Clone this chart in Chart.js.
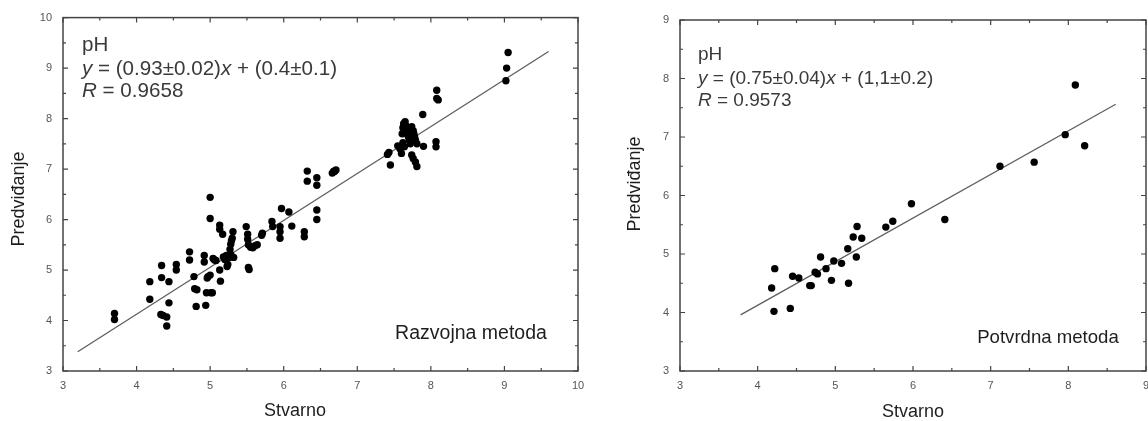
<!DOCTYPE html>
<html><head><meta charset="utf-8">
<script src="https://cdn.jsdelivr.net/npm/chart.js@4.4.0/dist/chart.umd.min.js"></script>
<style>
html,body{margin:0;padding:0;background:#fff;width:1148px;height:421px;overflow:hidden;position:relative}
canvas{position:absolute;top:0}
#c1{left:0}
#c2{left:600px}
</style></head><body>
<canvas id="c1" width="600" height="421" style="width:600px;height:421px"></canvas>
<canvas id="c2" width="600" height="421" style="width:600px;height:421px"></canvas>
<script>
// ---- Razvojna metoda (development set) ----
const devActual = [3.70,3.70,4.18,4.18,4.34,4.34,4.33,4.36,4.41,4.41,4.44,4.44,4.54,4.54,4.72,4.72,4.78,4.79,4.82,4.81,
  4.92,4.92,4.95,4.94,4.97,5.00,4.96,5.01,5.03,5.00,5.00,5.04,5.06,5.08,5.13,5.13,5.13,5.14,5.17,5.18,
  5.20,5.23,5.24,5.26,5.28,5.27,5.28,5.29,5.31,5.30,5.32,5.22,5.49,5.51,5.51,5.52,5.55,5.52,5.53,5.58,
  5.61,5.64,5.71,5.70,5.84,5.85,5.95,5.95,5.95,5.97,6.07,6.11,6.28,6.28,6.32,6.32,6.45,6.45,6.45,6.45,
  6.66,6.68,6.71,6.69,7.41,7.43,7.45,7.55,7.58,7.60,7.61,7.62,7.63,7.65,7.66,7.68,7.69,7.71,7.72,7.74,
  7.76,7.77,7.78,7.79,7.81,7.74,7.76,7.79,7.81,7.89,7.90,8.07,8.07,8.08,8.08,8.10,9.02,9.03,9.05,7.64,7.70,7.62];
const devPredicted = [4.14,4.02,4.77,4.42,5.09,4.85,4.12,4.10,4.07,3.89,4.77,4.35,5.11,5.00,5.36,5.20,4.87,4.63,4.61,4.28,
  5.29,5.16,4.55,4.30,4.87,4.90,4.84,4.55,4.55,6.44,6.02,5.23,5.20,5.19,5.89,5.81,5.00,4.78,5.71,5.26,
  5.21,5.07,5.11,5.25,5.31,5.41,5.51,5.58,5.76,5.63,5.25,5.29,5.86,5.71,5.61,5.50,5.45,5.05,5.01,5.44,
  5.48,5.50,5.73,5.69,5.96,5.86,5.86,5.76,5.63,6.22,6.15,5.87,5.76,5.66,6.96,6.76,6.83,6.68,6.19,6.00,
  6.92,6.96,6.98,6.95,7.29,7.33,7.08,7.46,7.40,7.31,7.70,7.82,7.90,7.94,7.86,7.76,7.66,7.57,7.50,7.84,
  7.76,7.70,7.63,7.57,7.50,7.28,7.21,7.14,7.05,8.08,7.45,7.54,7.44,8.56,8.40,8.37,8.75,9.00,9.31,7.44,7.62,7.52];
const devFitX = [3.2, 9.6];
const devFitY = [3.38, 9.33];
const devTicks = [3,4,5,6,7,8,9,10];

// ---- Potvrdna metoda (validation set) ----
const valActual = [4.18,4.22,4.21,4.42,4.45,4.53,4.67,4.69,4.74,4.77,4.81,4.88,4.95,4.98,5.08,5.16,5.17,5.23,5.27,5.28,
  5.34,5.65,5.74,5.98,6.41,7.12,7.56,7.96,8.09,8.21];
const valPredicted = [4.42,4.75,4.02,4.07,4.62,4.59,4.46,4.46,4.69,4.66,4.95,4.75,4.55,4.88,4.84,5.09,4.50,5.29,4.95,5.47,
  5.27,5.46,5.56,5.86,5.59,6.50,6.57,7.04,7.89,6.85];
const valFitX = [3.78, 8.61];
const valFitY = [3.96, 7.56];
const valTicks = [3,4,5,6,7,8,9];

const xTitle = 'Stvarno';
const yTitle = 'Predviđanje';
const devLabel = 'Razvojna metoda';
const valLabel = 'Potvrdna metoda';
const devEq = [['y','italic'],[' = (0.93±0.02)','normal'],['x','italic'],[' + (0.4±0.1)','normal']];
const devR = [['R','italic'],[' = 0.9658','normal']];
const valEq = [['y','italic'],[' = (0.75±0.04)','normal'],['x','italic'],[' + (1,1±0.2)','normal']];
const valR = [['R','italic'],[' = 0.9573','normal']];

const FONT = "'Liberation Sans', Arial, sans-serif";

const framePlugin = {
  id: 'frame',
  afterDraw(chart, args, o) {
    const {ctx, chartArea: a, scales: {x, y}} = chart;
    ctx.save();
    ctx.strokeStyle = '#444';
    ctx.lineWidth = 1.5;
    ctx.strokeRect(a.left, a.top, a.right - a.left, a.bottom - a.top);
    ctx.lineWidth = 1.2;
    ctx.beginPath();
    for (let v = x.min; v <= x.max + 1e-9; v += 0.5) {
      const p = x.getPixelForValue(v);
      const L = Math.abs(v - Math.round(v)) < 1e-6 ? 5 : 3;
      ctx.moveTo(p, a.bottom); ctx.lineTo(p, a.bottom - L);
      ctx.moveTo(p, a.top); ctx.lineTo(p, a.top + L);
    }
    for (let v = y.min; v <= y.max + 1e-9; v += 0.5) {
      const p = y.getPixelForValue(v);
      const L = Math.abs(v - Math.round(v)) < 1e-6 ? 5 : 3;
      ctx.moveTo(a.left, p); ctx.lineTo(a.left + L, p);
      ctx.moveTo(a.right, p); ctx.lineTo(a.right - L, p);
    }
    ctx.stroke();

    // annotation block
    ctx.textBaseline = 'middle';
    ctx.textAlign = 'left';
    ctx.fillStyle = '#3a3a3a';
    const fs = o.annSize;
    const lines = [[['pH','normal']], o.eq, o.r];
    lines.forEach((parts, i) => {
      let cx = o.annX;
      const cy = o.annY[i];
      parts.forEach(([t, st]) => {
        ctx.font = (st === 'italic' ? 'italic ' : '') + fs + 'px ' + FONT;
        ctx.fillText(t, cx, cy);
        cx += ctx.measureText(t).width;
      });
    });

    // method label
    ctx.fillStyle = '#1e1e1e';
    ctx.textAlign = 'center';
    ctx.font = o.labelSize + 'px ' + FONT;
    ctx.fillText(o.label, o.labelX, o.labelY);

    // axis titles
    ctx.font = '18px ' + FONT;
    ctx.fillText(xTitle, o.xtX, o.xtY);
    ctx.save();
    ctx.translate(o.ytX, o.ytY);
    ctx.rotate(-Math.PI / 2);
    ctx.fillText(yTitle, 0, 0);
    ctx.restore();
    ctx.restore();
  }
};

function toPts(xs, ys) { return xs.map((v, i) => ({x: v, y: ys[i]})); }

function makeChart(id, cfg) {
  const tickFont = {family: FONT, size: 11};
  return new Chart(document.getElementById(id), {
    type: 'scatter',
    data: {
      datasets: [
        {data: toPts(cfg.xs, cfg.ys), pointRadius: 3.7, pointBackgroundColor: '#000', pointBorderWidth: 0, showLine: false, order: 1},
        {data: toPts(cfg.fx, cfg.fy), type: 'line', showLine: true, pointRadius: 0, borderColor: '#5e5e5e', borderWidth: 1.3, fill: false, order: 2}
      ]
    },
    options: {
      responsive: false,
      animation: false,
      devicePixelRatio: 1,
      layout: {padding: cfg.pad},
      plugins: {legend: {display: false}, tooltip: {enabled: false}, frame: cfg.frame},
      scales: {
        x: {
          type: 'linear', min: cfg.ticks[0], max: cfg.ticks[cfg.ticks.length - 1],
          afterFit(s) { s.height = 50; },
          afterBuildTicks(s) { s.ticks = cfg.ticks.map(v => ({value: v})); },
          grid: {display: false, drawTicks: false}, border: {display: false},
          ticks: {padding: 8, color: '#555', font: tickFont, maxRotation: 0, autoSkip: false}
        },
        y: {
          type: 'linear', min: cfg.yticks[0], max: cfg.yticks[cfg.yticks.length - 1],
          afterFit(s) { s.width = cfg.yw; },
          afterBuildTicks(s) { s.ticks = cfg.yticks.map(v => ({value: v})); },
          grid: {display: false, drawTicks: false}, border: {display: false},
          ticks: {padding: 11, color: '#555', font: tickFont, autoSkip: false}
        }
      }
    },
    plugins: [framePlugin]
  });
}

makeChart('c1', {
  xs: devActual, ys: devPredicted, fx: devFitX, fy: devFitY,
  ticks: devTicks, yticks: devTicks, yw: 63,
  pad: {top: 17, right: 22, left: 0, bottom: 0},
  frame: {annX: 82, annY: [45, 69, 91], annSize: 20.6, eq: devEq, r: devR,
    label: devLabel, labelX: 471, labelY: 334, labelSize: 19.5,
    xtX: 295, xtY: 411, ytX: 19, ytY: 199}
});

makeChart('c2', {
  xs: valActual, ys: valPredicted, fx: valFitX, fy: valFitY,
  ticks: valTicks, yticks: valTicks, yw: 80,
  pad: {top: 20, right: 54, left: 0, bottom: 0},
  frame: {annX: 98, annY: [55, 79, 101], annSize: 19, eq: valEq, r: valR,
    label: valLabel, labelX: 448, labelY: 338, labelSize: 18.6,
    xtX: 313, xtY: 412, ytX: 35, ytY: 184}
});
</script>
</body></html>
